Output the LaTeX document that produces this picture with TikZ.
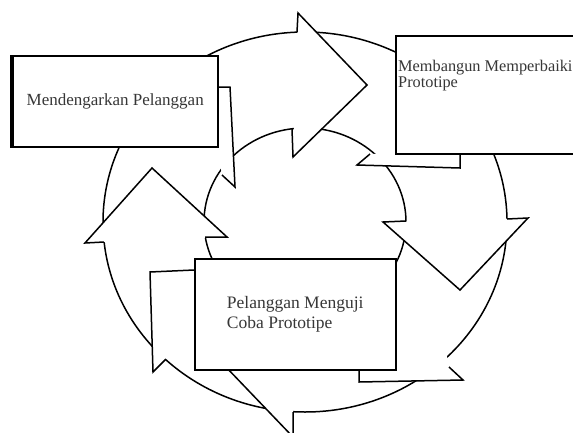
\documentclass[tikz,border=0pt]{standalone}
\usepackage{fontspec}
\setmainfont{Liberation Serif}
\usepackage{xcolor}
\usepackage{tikz}
\definecolor{txtgray}{RGB}{55,55,55}

\begin{document}
\begin{tikzpicture}[x=1pt,y=-1pt,
    ring/.style={line width=1.5pt,line join=miter},
    box/.style={draw,line width=1.5pt,fill=white,inner sep=0pt},
    boxtext/.style={text=txtgray,inner sep=0pt,font=\fontsize{17}{20}\selectfont}]
  \useasboundingbox (0,0) rectangle (573,432);
  \clip (0,0) rectangle (573,432);
  % the two rims of the cycle
  \draw[ring] (305,222) ellipse [x radius=202, y radius=190];
  \draw[ring] (305,222) ellipse [x radius=101, y radius=94];
  % arrow heads: stub, back corner, tip, back corner, stub
  \foreach \ax/\ay/\bx/\by/\tx/\ty/\cx/\cy/\ex/\ey in {
      297/32/298/13/367/85/293/157/292/129,
      406/221/383/222/460/290/528/218/507/219,
      293/412/293/437/225/366/293/295/293/316,
      104/242/85/243/152/168/227/237/205/237} {
    \fill[white] (\bx,\by) -- (\tx,\ty) -- (\cx,\cy) -- cycle;
    \draw[ring] (\ax,\ay) -- (\bx,\by) -- (\tx,\ty) -- (\cx,\cy) -- (\ex,\ey);
  }
  % notched tails tucked under the boxes
  \fill[white] (222,175) -- (235,187) -- (230,87) -- (217,87) -- (217,146) -- cycle;
  \draw[ring] (222,175) -- (235,187) -- (230,87) -- (217,87);
  \fill[white] (370,154) -- (357,165) -- (460,168) -- (460,153) -- (395,153) -- cycle;
  \draw[ring] (370,154) -- (357,165) -- (460,168) -- (460,153);
  \fill[white] (166,359) -- (153,372) -- (150,272) -- (194,270) -- (194,362) -- cycle;
  \draw[ring] (166,359) -- (153,372) -- (150,272) -- (194,270);
  \fill[white] (449,367) -- (463,380) -- (359,382) -- (359,369) -- (395,369) -- (395,345) -- (446,352) -- cycle;
  \draw[ring] (449,367) -- (463,380) -- (359,382) -- (359,369);
  % the three text boxes
  \node[box,boxtext,anchor=north west,minimum width=205pt,minimum height=91pt] (listen) at (12,55) {Mendengarkan Pelanggan};
  \draw[line width=3.5pt] (listen.north west) -- (listen.south west);
  \node[box,anchor=north west,minimum width=200pt,minimum height=118pt] (build) at (395,35) {};
  \node[boxtext,anchor=north west,align=left,font=\fontsize{16.3}{16}\selectfont] (buildtext) at (398,60) {Membangun Memperbaiki\\Prototipe};
  \node[box,boxtext,anchor=north west,align=left,minimum width=201pt,minimum height=111pt,font=\fontsize{17.5}{20}\selectfont] (test) at (194,258) {Pelanggan Menguji\\Coba Prototipe};
\end{tikzpicture}
\end{document}
